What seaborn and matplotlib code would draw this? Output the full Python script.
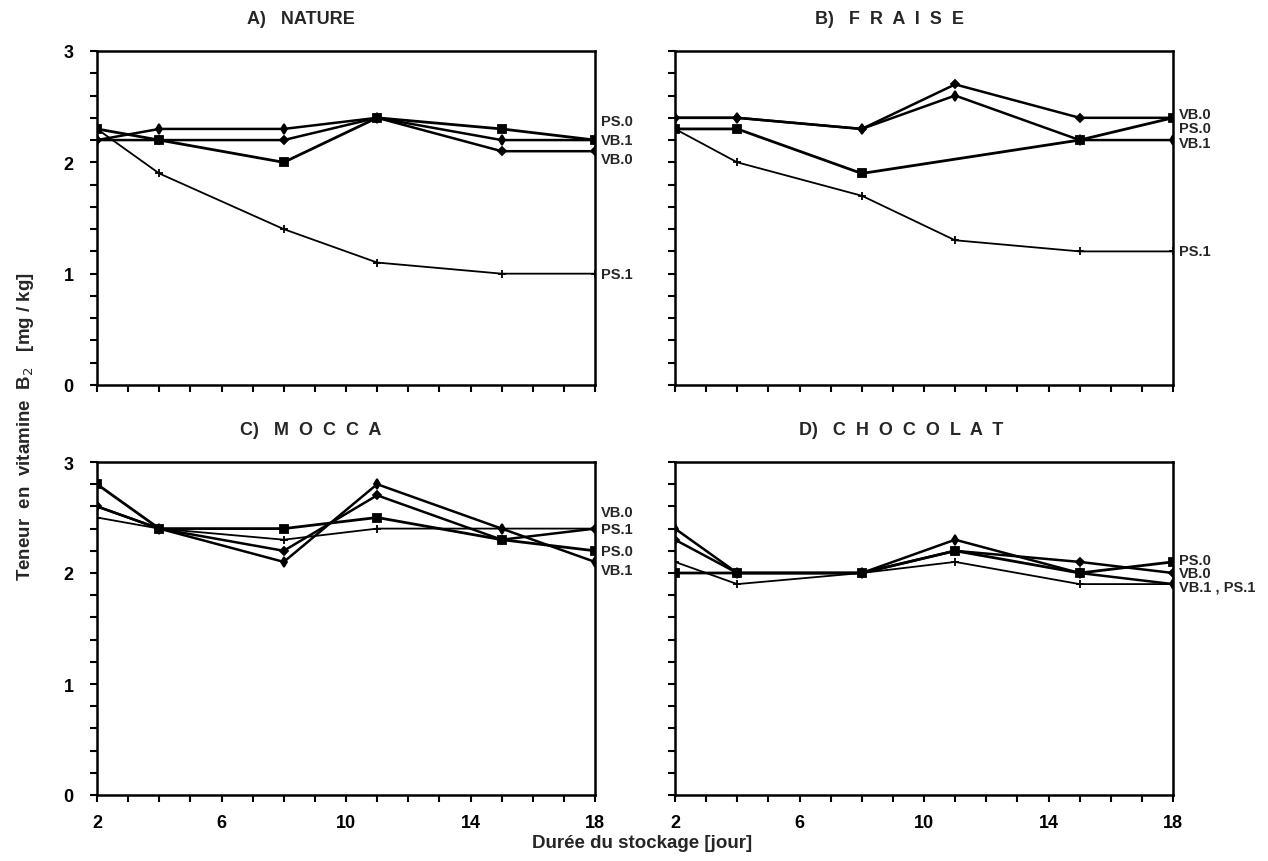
import numpy as np
import pandas as pd
import matplotlib
matplotlib.use("Agg")
import matplotlib.pyplot as plt
from matplotlib.ticker import MultipleLocator, FixedLocator, NullFormatter
import seaborn as sns

# ---------------- data ----------------
jours = [2, 4, 8, 11, 15, 18]
series_names = ["PS.0", "VB.0", "VB.1", "PS.1"]

nature_ps0 = [2.3, 2.2, 2.0, 2.4, 2.3, 2.2]
nature_vb0 = [2.2, 2.2, 2.2, 2.4, 2.1, 2.1]
nature_vb1 = [2.2, 2.3, 2.3, 2.4, 2.2, 2.2]
nature_ps1 = [2.3, 1.9, 1.4, 1.1, 1.0, 1.0]

fraise_ps0 = [2.3, 2.3, 1.9, np.nan, 2.2, 2.4]
fraise_vb0 = [2.4, 2.4, 2.3, 2.7, 2.4, 2.4]
fraise_vb1 = [2.4, 2.4, 2.3, 2.6, 2.2, 2.2]
fraise_ps1 = [2.3, 2.0, 1.7, 1.3, 1.2, 1.2]

mocca_ps0 = [2.8, 2.4, 2.4, 2.5, 2.3, 2.2]
mocca_vb0 = [2.6, 2.4, 2.2, 2.7, 2.3, 2.4]
mocca_vb1 = [2.6, 2.4, 2.1, 2.8, 2.4, 2.1]
mocca_ps1 = [2.5, 2.4, 2.3, 2.4, 2.4, 2.4]

choco_ps0 = [2.0, 2.0, 2.0, 2.2, 2.0, 2.1]
choco_vb0 = [2.3, 2.0, 2.0, 2.2, 2.1, 2.0]
choco_vb1 = [2.4, 2.0, 2.0, 2.3, 2.0, 1.9]
choco_ps1 = [2.1, 1.9, 2.0, 2.1, 1.9, 1.9]

panel_titles = ["A)   NATURE", "B)   F  R  A  I  S  E", "C)   M  O  C  C  A",
                "D)   C  H  O  C  O  L  A  T"]

# end-of-line labels (text, y position)
labels_nature = [("PS.0", 2.37), ("VB.1", 2.2), ("VB.0", 2.03), ("PS.1", 1.0)]
labels_fraise = [("VB.0", 2.43), ("PS.0", 2.31), ("VB.1", 2.17), ("PS.1", 1.2)]
labels_mocca = [("VB.0", 2.55), ("PS.1", 2.4), ("PS.0", 2.2), ("VB.1", 2.03)]
labels_choco = [("PS.0", 2.12), ("VB.0", 2.0), ("VB.1 , PS.1", 1.88)]

panels = [
    (panel_titles[0], [nature_ps0, nature_vb0, nature_vb1, nature_ps1], labels_nature),
    (panel_titles[1], [fraise_ps0, fraise_vb0, fraise_vb1, fraise_ps1], labels_fraise),
    (panel_titles[2], [mocca_ps0, mocca_vb0, mocca_vb1, mocca_ps1], labels_mocca),
    (panel_titles[3], [choco_ps0, choco_vb0, choco_vb1, choco_ps1], labels_choco),
]

# ---------------- style ----------------
sns.set_style("ticks")
plt.rcParams["font.family"] = ["Liberation Sans", "DejaVu Sans"]

markers = {"PS.0": "s", "VB.0": "D", "VB.1": "d", "PS.1": "+"}
msizes = {"PS.0": 6, "VB.0": 4.5, "VB.1": 5, "PS.1": 6}
lwidths = {"PS.0": 2.0, "VB.0": 1.8, "VB.1": 1.8, "PS.1": 1.3}
title_x = [0.41, 0.43, 0.43, 0.455]

fig = plt.figure(figsize=(12.68, 8.62), dpi=100)
W, H = 1268, 862
boxes = [
    (97, 52, 595, 386),
    (675, 52, 1173, 386),
    (97, 463, 595, 796),
    (675, 463, 1173, 796),
]

for i, ((title, vals, labs), (x0, y0, x1, y1)) in enumerate(zip(panels, boxes)):
    ax = fig.add_axes([x0 / W, 1 - y1 / H, (x1 - x0) / W, (y1 - y0) / H])
    for name, v in zip(series_names, vals):
        df = pd.DataFrame({"jour": jours, "val": v}).dropna()
        sns.lineplot(data=df, x="jour", y="val", color="black",
                     linewidth=lwidths[name], marker=markers[name],
                     markersize=msizes[name], markeredgecolor="black",
                     markerfacecolor="black", markeredgewidth=1.3,
                     ax=ax, estimator=None, sort=False, legend=False)
    ax.set_xlim(2, 18)
    ax.set_ylim(0, 3)
    ax.set_xlabel("")
    ax.set_ylabel("")
    ax.xaxis.set_major_locator(FixedLocator([2, 6, 10, 14, 18]))
    ax.xaxis.set_minor_locator(MultipleLocator(1))
    ax.yaxis.set_major_locator(MultipleLocator(1))
    ax.yaxis.set_minor_locator(MultipleLocator(0.2))
    ax.tick_params(which="both", direction="out", length=5, width=1.5,
                   colors="black", labelsize=13)
    for lab in ax.get_xticklabels() + ax.get_yticklabels():
        lab.set_fontweight("bold")
    if i in (0, 1):
        ax.xaxis.set_major_formatter(NullFormatter())
    else:
        ax.tick_params(axis="x", pad=9)
    if i in (1, 3):
        ax.yaxis.set_major_formatter(NullFormatter())
    else:
        ax.tick_params(axis="y", pad=12)
    for s in ax.spines.values():
        s.set_visible(True)
        s.set_linewidth(1.8)
        s.set_color("black")
    ax.set_title(title, fontsize=13, fontweight="bold", pad=20, x=title_x[i])
    for txt, yy in labs:
        ax.text(18.2, yy, txt, fontsize=10.5, fontweight="bold",
                va="center", ha="left", clip_on=False)

fig.text(0.02, 0.505, "Teneur  en  vitamine  B$_2$   [mg / kg]", rotation=90,
         fontsize=13.5, fontweight="bold", ha="center", va="center")
fig.text(0.506, 0.022, "Durée du stockage [jour]", fontsize=13.5,
         fontweight="bold", ha="center", va="center")

fig.savefig("out.png", dpi=100, facecolor="white")
